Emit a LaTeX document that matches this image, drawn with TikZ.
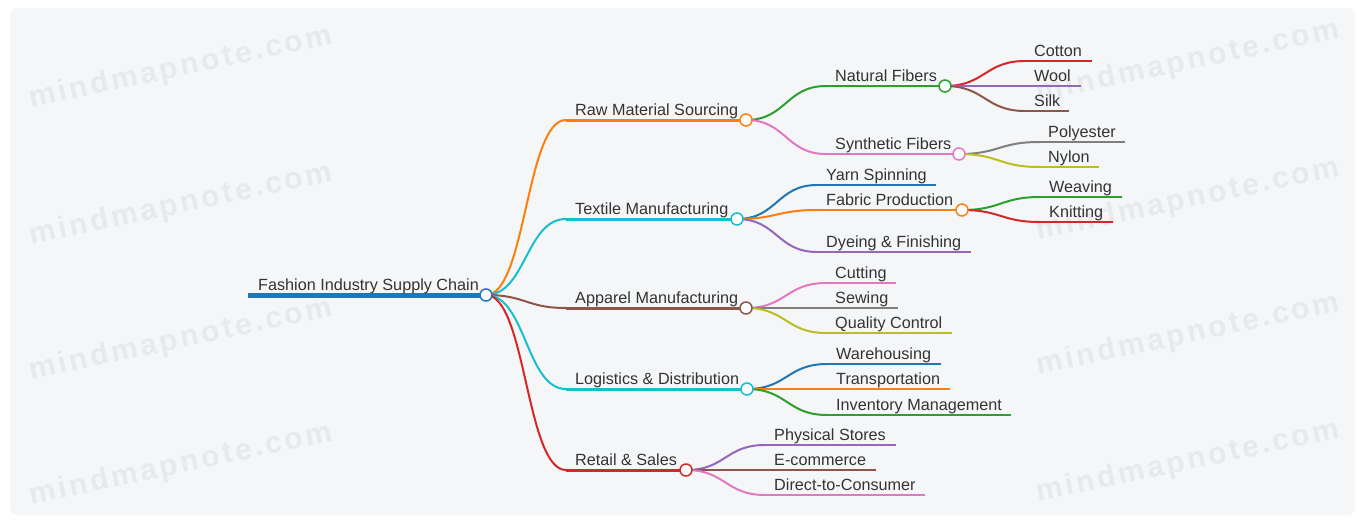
\documentclass[tikz,border=0pt]{standalone}
\usepackage{fontspec}
\setmainfont{Liberation Sans}
\newfontfamily\wmfont[LetterSpace=10]{Liberation Sans}
\usetikzlibrary{calc}
\definecolor{cblue}{HTML}{1F77B4}
\definecolor{corange}{HTML}{FF7F0E}
\definecolor{cgreen}{HTML}{2CA02C}
\definecolor{cred}{HTML}{D62728}
\definecolor{cpurple}{HTML}{9467BD}
\definecolor{cbrown}{HTML}{8C564B}
\definecolor{cpink}{HTML}{E377C2}
\definecolor{cgray}{HTML}{7F7F7F}
\definecolor{colive}{HTML}{BCBD22}
\definecolor{ccyan}{HTML}{17BECF}
\definecolor{bgc}{HTML}{F5F6F8}
\definecolor{wmc}{HTML}{E8E9EC}
\definecolor{txt}{HTML}{333333}
\tikzset{
  lbl/.style={anchor=base west, inner sep=0pt, font=\fontsize{16.2}{19}\selectfont, text=txt},
  bar/.style={line width=2pt},
  bar1/.style={line width=3pt},
  link/.style={line width=2pt},
  knob/.style={circle, draw, fill=white, minimum size=12pt, inner sep=0pt, line width=1.5pt},
  wm/.style={rotate=12, text=wmc, font=\fontsize{30}{32}\wmfont\bfseries},
}
\newcommand{\lnk}[3]{%
  \path let \p1=(#2), \p2=(#3) in
    coordinate (ca) at ({(\x1+\x2)/2},\y1)
    coordinate (cb) at ({(\x1+\x2)/2},\y2);
  \draw[link,#1] (#2) .. controls (ca) and (cb) .. (#3);}
\begin{document}
\begin{tikzpicture}[x=1pt,y=-1pt]
\useasboundingbox (0,0) rectangle (1363,523);
\fill[white] (0,0) rectangle (1363,523);
\fill[bgc, rounded corners=8pt] (10,8) rectangle (1355,515);
% watermarks
\foreach \wx/\wy/\wn in {181/68/w1,181/205/w2,181/340/w3,181/465/w4,1188/62/w5,1188/200/w6,1188/335/w7,1188/462/w8}
  \node[wm] (\wn) at (\wx,\wy) {mindmapnote.com};
% coordinates: start (S) and end (E) of each underline
\coordinate (rootS) at (248,295); \coordinate (rootE) at (486,295);
\coordinate (rawS) at (566,120); \coordinate (rawE) at (746,120);
\coordinate (texS) at (566,219); \coordinate (texE) at (737,219);
\coordinate (appS) at (566,308); \coordinate (appE) at (746,308);
\coordinate (logS) at (566,389); \coordinate (logE) at (747,389);
\coordinate (retS) at (566,470); \coordinate (retE) at (686,470);
\coordinate (natS) at (826,86); \coordinate (natE) at (945,86);
\coordinate (synS) at (826,154); \coordinate (synE) at (959,154);
\coordinate (yarnS) at (817,185); \coordinate (yarnE) at (936,185);
\coordinate (fabS) at (817,210); \coordinate (fabE) at (962,210);
\coordinate (dyeS) at (817,252); \coordinate (dyeE) at (971,252);
\coordinate (cutS) at (826,283); \coordinate (cutE) at (896,283);
\coordinate (sewS) at (826,308); \coordinate (sewE) at (898,308);
\coordinate (qcS) at (826,333); \coordinate (qcE) at (952,333);
\coordinate (wareS) at (827,364); \coordinate (wareE) at (941,364);
\coordinate (tranS) at (827,389); \coordinate (tranE) at (950,389);
\coordinate (invS) at (827,415); \coordinate (invE) at (1011,415);
\coordinate (physS) at (765,445); \coordinate (physE) at (896,445);
\coordinate (ecomS) at (765,470); \coordinate (ecomE) at (876,470);
\coordinate (dtcS) at (765,495); \coordinate (dtcE) at (925,495);
\coordinate (cotS) at (1025,61); \coordinate (cotE) at (1092,61);
\coordinate (wooS) at (1025,86); \coordinate (wooE) at (1081,86);
\coordinate (silS) at (1025,111); \coordinate (silE) at (1069,111);
\coordinate (polS) at (1039,142); \coordinate (polE) at (1125,142);
\coordinate (nylS) at (1039,167); \coordinate (nylE) at (1099,167);
\coordinate (weaS) at (1040,197); \coordinate (weaE) at (1122,197);
\coordinate (kniS) at (1040,222); \coordinate (kniE) at (1113,222);
% connectors
\lnk{corange}{rootE}{rawS}
\lnk{ccyan}{rootE}{texS}
\lnk{cbrown}{rootE}{appS}
\lnk{ccyan}{rootE}{logS}
\lnk{cred}{rootE}{retS}
\lnk{cgreen}{rawE}{natS}
\lnk{cpink}{rawE}{synS}
\lnk{cblue}{texE}{yarnS}
\lnk{corange}{texE}{fabS}
\lnk{cpurple}{texE}{dyeS}
\lnk{cpink}{appE}{cutS}
\lnk{cgray}{appE}{sewS}
\lnk{colive}{appE}{qcS}
\lnk{cblue}{logE}{wareS}
\lnk{corange}{logE}{tranS}
\lnk{cgreen}{logE}{invS}
\lnk{cpurple}{retE}{physS}
\lnk{cbrown}{retE}{ecomS}
\lnk{cpink}{retE}{dtcS}
\lnk{cred}{natE}{cotS}
\lnk{cpurple}{natE}{wooS}
\lnk{cbrown}{natE}{silS}
\lnk{cgray}{synE}{polS}
\lnk{colive}{synE}{nylS}
\lnk{cgreen}{fabE}{weaS}
\lnk{cred}{fabE}{kniS}
% underlines
\draw[line width=5pt, cblue] (rootS) -- (rootE);
\draw[bar1, corange] (rawS) -- (rawE);
\draw[bar1, ccyan] (texS) -- (texE);
\draw[bar1, cbrown] (appS) -- (appE);
\draw[bar1, ccyan] (logS) -- (logE);
\draw[bar1, cred] (retS) -- (retE);
\draw[bar, cgreen] (natS) -- (natE);
\draw[bar, cpink] (synS) -- (synE);
\draw[bar, cblue] (yarnS) -- (yarnE);
\draw[bar, corange] (fabS) -- (fabE);
\draw[bar, cpurple] (dyeS) -- (dyeE);
\draw[bar, cpink] (cutS) -- (cutE);
\draw[bar, cgray] (sewS) -- (sewE);
\draw[bar, colive] (qcS) -- (qcE);
\draw[bar, cblue] (wareS) -- (wareE);
\draw[bar, corange] (tranS) -- (tranE);
\draw[bar, cgreen] (invS) -- (invE);
\draw[bar, cpurple] (physS) -- (physE);
\draw[bar, cbrown] (ecomS) -- (ecomE);
\draw[bar, cpink] (dtcS) -- (dtcE);
\draw[bar, cred] (cotS) -- (cotE);
\draw[bar, cpurple] (wooS) -- (wooE);
\draw[bar, cbrown] (silS) -- (silE);
\draw[bar, cgray] (polS) -- (polE);
\draw[bar, colive] (nylS) -- (nylE);
\draw[bar, cgreen] (weaS) -- (weaE);
\draw[bar, cred] (kniS) -- (kniE);
% knobs
\node[knob, draw=cblue] (rootK) at (rootE) {};
\node[knob, draw=corange] (rawK) at (rawE) {};
\node[knob, draw=ccyan] (texK) at (texE) {};
\node[knob, draw=cbrown] (appK) at (appE) {};
\node[knob, draw=ccyan] (logK) at (logE) {};
\node[knob, draw=cred] (retK) at (retE) {};
\node[knob, draw=cgreen] (natK) at (natE) {};
\node[knob, draw=cpink] (synK) at (synE) {};
\node[knob, draw=corange] (fabK) at (fabE) {};
% labels
\node[lbl] (rootT) at ($(rootS)+(10,-5)$) {Fashion Industry Supply Chain};
\node[lbl] (rawT) at ($(rawS)+(9,-5)$) {Raw Material Sourcing};
\node[lbl] (texT) at ($(texS)+(9,-5)$) {Textile Manufacturing};
\node[lbl] (appT) at ($(appS)+(9,-5)$) {Apparel Manufacturing};
\node[lbl] (logT) at ($(logS)+(9,-5)$) {Logistics \& Distribution};
\node[lbl] (retT) at ($(retS)+(9,-5)$) {Retail \& Sales};
\node[lbl] (natT) at ($(natS)+(9,-5)$) {Natural Fibers};
\node[lbl] (synT) at ($(synS)+(9,-5)$) {Synthetic Fibers};
\node[lbl] (yarnT) at ($(yarnS)+(9,-5)$) {Yarn Spinning};
\node[lbl] (fabT) at ($(fabS)+(9,-5)$) {Fabric Production};
\node[lbl] (dyeT) at ($(dyeS)+(9,-5)$) {Dyeing \& Finishing};
\node[lbl] (cutT) at ($(cutS)+(9,-5)$) {Cutting};
\node[lbl] (sewT) at ($(sewS)+(9,-5)$) {Sewing};
\node[lbl] (qcT) at ($(qcS)+(9,-5)$) {Quality Control};
\node[lbl] (wareT) at ($(wareS)+(9,-5)$) {Warehousing};
\node[lbl] (tranT) at ($(tranS)+(9,-5)$) {Transportation};
\node[lbl] (invT) at ($(invS)+(9,-5)$) {Inventory Management};
\node[lbl] (physT) at ($(physS)+(9,-5)$) {Physical Stores};
\node[lbl] (ecomT) at ($(ecomS)+(9,-5)$) {E-commerce};
\node[lbl] (dtcT) at ($(dtcS)+(9,-5)$) {Direct-to-Consumer};
\node[lbl] (cotT) at ($(cotS)+(9,-5)$) {Cotton};
\node[lbl] (wooT) at ($(wooS)+(9,-5)$) {Wool};
\node[lbl] (silT) at ($(silS)+(9,-5)$) {Silk};
\node[lbl] (polT) at ($(polS)+(9,-5)$) {Polyester};
\node[lbl] (nylT) at ($(nylS)+(9,-5)$) {Nylon};
\node[lbl] (weaT) at ($(weaS)+(9,-5)$) {Weaving};
\node[lbl] (kniT) at ($(kniS)+(9,-5)$) {Knitting};
\end{tikzpicture}
\end{document}
